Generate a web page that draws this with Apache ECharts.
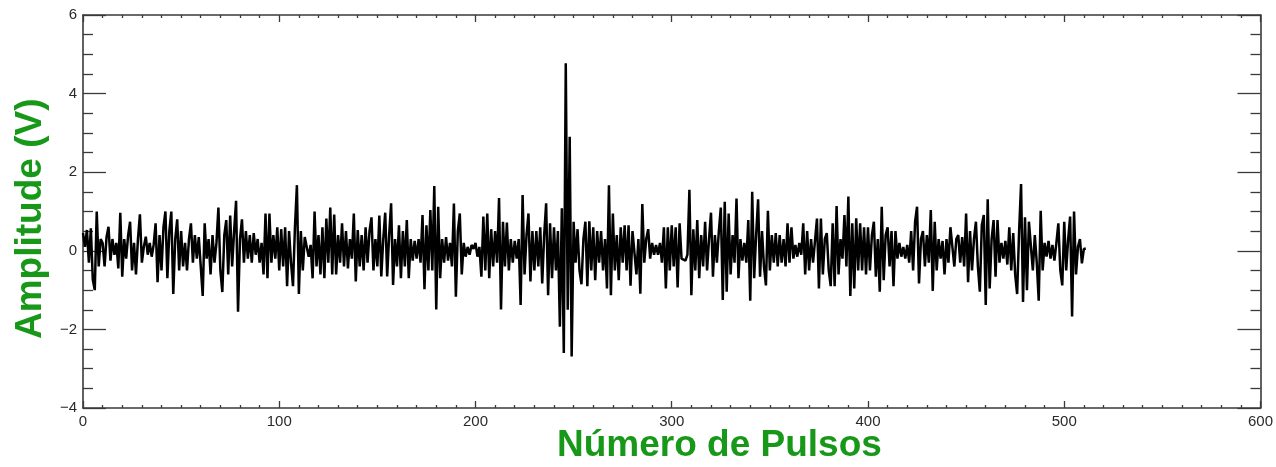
<!DOCTYPE html>
<html>
<head>
<meta charset="utf-8">
<script src="https://cdn.jsdelivr.net/npm/echarts@6/dist/echarts.min.js"></script>
<style>
html,body{margin:0;padding:0;background:#ffffff;}
#chart{width:1276px;height:467px;}
</style>
</head>
<body>
<div id="chart"></div>
<script>
// Amplitude values (V), one per pulse index 0..511
const amplitude = [
 0.45, 0.1, 0.53, -0.3, 0.57, -0.74, -1.0, 1.0, -0.4, 0.3,
 0.2, -0.4, 0.35, 0.61, -0.25, 0.3, -0.1, 0.2, -0.45, 0.97,
 -0.66, 0.3, -0.2, 0.4, 0.74, -0.5, 0.2, -0.6, 0.3, 0.93,
 -0.3, 0.1, 0.36, -0.1, 0.2, -0.15, 0.15, 0.7, -0.8, 0.4,
 -0.5, 0.6, 1.0, -0.7, 0.5, 1.0, -1.1, 0.3, 0.8, -0.5,
 0.5, -0.4, 0.2, -0.5, 0.3, 0.7, -0.3, 0.4, -0.2, 0.35,
 -0.4, -1.15, 0.7, -0.2, 0.3, -0.6, 0.4, -0.3, 0.2, 1.1,
 -0.5, -1.05, 0.4, 0.78, -0.6, 0.9, -0.4, 0.5, 1.27, -1.55,
 0.3, 0.8, -0.3, 0.5, -0.2, 0.4, -0.3, 0.45, -0.1, 0.3,
 -0.3, 0.2, -0.6, 0.95, -0.7, 0.95, -0.3, 0.4, -0.2, 0.6,
 -0.5, 0.55, -0.4, 0.6, -0.9, 0.5, -0.3, -0.9, 0.6, 1.67,
 -1.1, 0.5, -0.5, 0.35, 0.1, -0.15, 0.15, -0.7, 1.0, -0.4,
 0.4, -0.6, 0.6, -0.7, 0.82, -0.3, 1.1, -0.6, 0.92, -0.6,
 0.4, -0.3, 0.7, -0.4, 0.5, -0.45, 0.3, -0.2, 0.95, -0.78,
 0.53, -0.4, 0.4, -0.5, 0.6, -0.3, 0.5, 0.85, -0.5, 0.3,
 -0.4, 0.9, -0.65, 0.3, 0.97, -0.65, 0.4, 1.21, -0.87, 0.3,
 -0.4, 0.65, -0.7, 0.5, -0.4, 0.78, -0.7, 0.3, -0.25, 0.25,
 -0.2, 0.3, -0.3, 0.91, -0.98, 0.65, -0.5, 1.04, -0.5, 1.65,
 -1.49, 1.12, -0.7, 0.3, -0.3, 0.35, -0.25, 0.2, -0.4, 1.2,
 -1.17, 0.5, 0.95, -0.6, 0.2, -0.15, 0.1, -0.1, 0.15, 0.05,
 0.2, -0.15, 0.1, -0.66, 0.87, -0.5, 0.95, -0.7, 0.55, -0.4,
 0.5, -0.3, 1.34, -1.49, 0.74, -0.4, 0.72, -0.5, 0.3, -0.3,
 0.25, -0.2, 0.3, -1.38, 1.42, -0.6, 0.4, 0.95, -0.78, 0.5,
 -0.5, 0.5, -0.4, 0.6, -0.83, 0.4, 1.21, -1.13, 0.7, -0.7,
 0.6, -0.5, 0.5, -1.93, 1.08, -2.6, 4.77, -1.5, 2.9, -2.69,
 0.74, -0.3, 0.55, -0.5, -0.85, 0.3, 0.74, -0.9, 0.75, -0.5,
 0.6, -0.75, 0.5, -0.3, 0.5, -0.5, 0.3, -0.96, 1.67, -1.13,
 0.95, -0.5, 0.4, -0.75, 0.6, -0.3, 0.65, -0.5, 0.65, -0.89,
 0.5, 0.55, -0.6, 0.3, -1.09, 1.19, -0.3, 0.3, 0.55, -0.2,
 0.2, -0.1, 0.15, -0.1, 0.2, -0.3, 0.6, -0.96, 0.6, -0.5,
 0.65, -0.4, 0.6, -0.93, 0.7, -0.2, -0.2, -0.25, -0.1, 1.55,
 -1.13, 0.55, -0.5, 0.78, -0.7, 0.4, -0.4, 0.74, -0.5, 0.3,
 0.97, -0.66, 0.4, -0.3, 0.5, 1.1, -1.25, 1.25, -1.04, 0.95,
 -0.6, 0.4, -0.3, 1.33, -0.7, 0.3, -0.25, 0.2, -0.3, 0.78,
 -1.27, 1.5, -0.7, 0.4, 1.31, -0.66, 0.5, -0.4, -0.88, 1.02,
 -0.5, 0.4, -0.3, 0.45, -0.4, 0.4, -0.3, 0.3, -0.4, 0.7,
 -0.3, 0.6, -0.2, 0.15, -0.15, 0.2, -0.1, 0.7, -0.6, 0.5,
 -0.5, 0.3, -0.3, 0.25, 0.82, -0.96, 0.82, -0.6, 0.3, 0.45,
 -0.5, -0.9, 0.7, -0.9, 1.14, -0.6, 0.3, -0.2, 0.91, -0.4,
 1.38, -1.15, 0.7, -0.96, 0.83, -0.5, 0.7, -0.5, 0.6, -0.6,
 0.6, -0.5, 0.4, 0.74, -0.66, 0.3, -1.04, 1.12, -0.75, 0.4,
 0.6, -0.4, 0.5, -0.9, 0.5, -0.2, 0.2, -0.15, 0.1, -0.2,
 0.15, -0.3, 0.5, -0.5, 0.74, 1.12, -0.83, 0.3, 0.5, -0.4,
 0.4, -0.3, 1.04, -1.02, 0.74, -0.5, 0.3, -0.2, 0.25, -0.6,
 0.3, -0.3, 0.6, 0.55, -0.4, 0.3, 0.4, -0.3, 0.35, -0.4,
 0.95, -0.8, 0.5, -0.5, 0.3, 0.74, -0.4, -1.04, 0.65, 0.91,
 -1.38, 1.31, -0.96, 0.3, 0.78, -0.66, 0.78, -0.3, 0.2, -0.2,
 0.25, -0.35, 0.6, -0.5, 0.45, -0.6, -1.1, 0.5, 1.7, -1.3,
 0.85, -1.0, 0.74, 0.78, -0.5, 0.4, -0.3, -1.27, 1.02, -0.5,
 0.2, -0.15, 0.25, -0.2, 0.15, -0.25, 0.2, 0.7, -0.5, -0.88,
 0.74, -0.5, 0.3, 0.87, -1.67, 1.0, -0.6, 0.1, 0.3, -0.32,
 0.05, 0.05
];
const xTicks = [0, 100, 200, 300, 400, 500, 600];
const yTicks = [-4, -2, 0, 2, 4, 6];
const xTitle = 'Número de Pulsos';
const yTitle = 'Amplitude (V)';

const seriesData = amplitude.map((v, i) => [i, v]);

const axisColor = '#3a3a3a';
const labelFont = {color: '#2a2a2a', fontSize: 15, fontFamily: 'Liberation Sans, Arial, sans-serif'};
const fmtNum = v => String(v).replace('-', '\u2212');

const chart = echarts.init(document.getElementById('chart'), null, {renderer: 'canvas'});
const grid = {left: 83, right: 15, top: 15, bottom: 59};

function xAx(pos, showLabel) {
  return {
    type: 'value', position: pos, min: xTicks[0], max: xTicks[xTicks.length - 1], interval: 100,
    axisLine: {show: true, onZero: false, lineStyle: {color: axisColor, width: 1.6}},
    axisTick: {show: true, inside: true, length: 7, lineStyle: {color: axisColor, width: 1.3}},
    minorTick: {show: true, splitNumber: 10, length: 3, lineStyle: {color: axisColor, width: 1.3}},
    axisLabel: {show: showLabel, margin: 6, formatter: fmtNum, ...labelFont},
    splitLine: {show: false}, minorSplitLine: {show: false}
  };
}
function yAx(pos, showLabel) {
  return {
    type: 'value', position: pos, min: yTicks[0], max: yTicks[yTicks.length - 1], interval: 2,
    axisLine: {show: true, onZero: false, lineStyle: {color: axisColor, width: 1.6}},
    axisTick: {show: true, inside: true, length: 23, lineStyle: {color: axisColor, width: 1.3}},
    minorTick: {show: true, splitNumber: 4, length: 10, lineStyle: {color: axisColor, width: 1.3}},
    axisLabel: {show: showLabel, margin: 6, formatter: fmtNum, ...labelFont},
    splitLine: {show: false}, minorSplitLine: {show: false}
  };
}

chart.setOption({
  backgroundColor: '#ffffff',
  animation: false,
  grid: grid,
  xAxis: [xAx('bottom', true), xAx('top', false)],
  yAxis: [yAx('left', true), yAx('right', false)],
  graphic: [
    {type: 'text', left: 557, top: 427,
      style: {text: xTitle, fill: '#189818', font: 'bold 37px "Liberation Sans", Arial, sans-serif'}},
    {type: 'text', x: 12, y: 339, rotation: Math.PI / 2,
      style: {text: yTitle, fill: '#189818', font: 'bold 37px "Liberation Sans", Arial, sans-serif', verticalAlign: 'top'}}
  ],
  series: [{
    type: 'line', xAxisIndex: 0, yAxisIndex: 0,
    data: seriesData, showSymbol: false, symbol: 'none', smooth: false, sampling: null,
    lineStyle: {color: '#000000', width: 2.5, join: 'bevel'}
  }]
});
</script>
</body>
</html>
